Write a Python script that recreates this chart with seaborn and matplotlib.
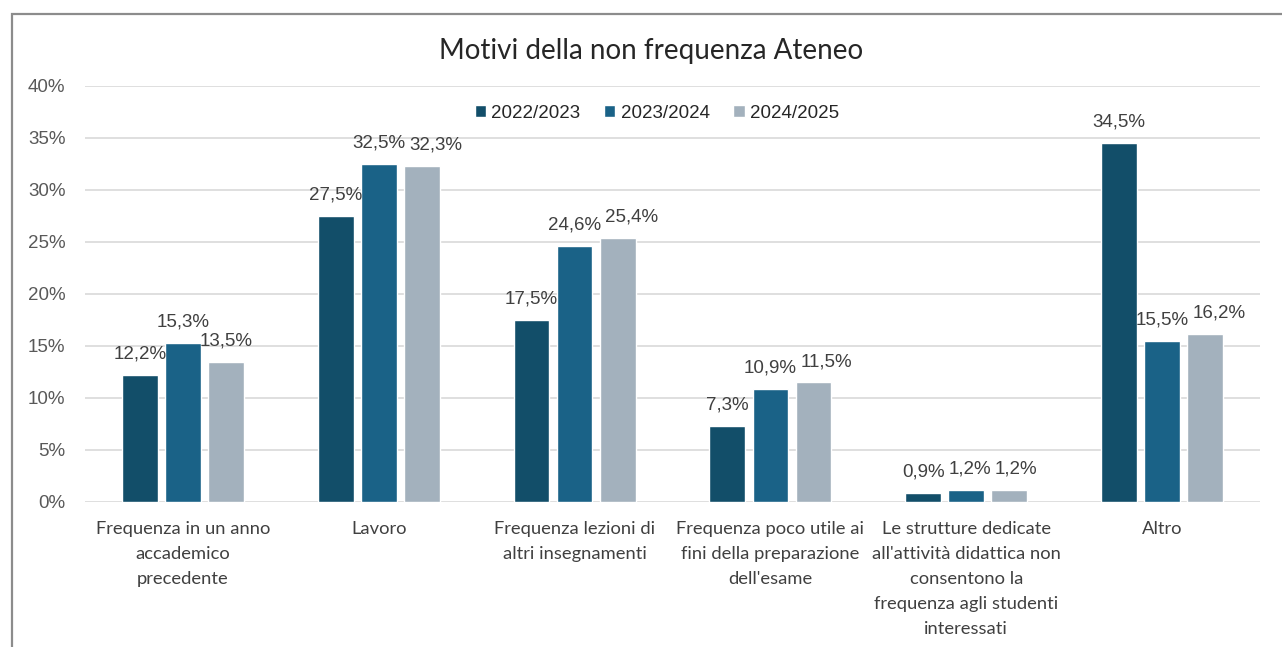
import matplotlib
matplotlib.use("Agg")
import matplotlib.pyplot as plt
import seaborn as sns
import pandas as pd
from matplotlib.patches import Rectangle

categories = [
    "Frequenza in un anno\naccademico\nprecedente",
    "Lavoro",
    "Frequenza lezioni di\naltri insegnamenti",
    "Frequenza poco utile ai\nfini della preparazione\ndell'esame",
    "Le strutture dedicate\nall'attività didattica non\nconsentono la\nfrequenza agli studenti\ninteressati",
    "Altro",
]
years = ["2022/2023", "2023/2024", "2024/2025"]
v_2022 = [12.2, 27.5, 17.5, 7.3, 0.9, 34.5]
v_2023 = [15.3, 32.5, 24.6, 10.9, 1.2, 15.5]
v_2024 = [13.5, 32.3, 25.4, 11.5, 1.2, 16.2]
colors = ["#124e69", "#1a6287", "#a3b1bd"]
yticks = [0, 5, 10, 15, 20, 25, 30, 35, 40]

rows = []
for yr, vals in zip(years, [v_2022, v_2023, v_2024]):
    for c, v in zip(categories, vals):
        rows.append({"cat": c, "year": yr, "val": v})
df = pd.DataFrame(rows)

sns.set_style("white")
plt.rcParams["font.family"] = ["Liberation Sans", "DejaVu Sans"]

fig = plt.figure(figsize=(12.82, 6.47), dpi=100)
ax = fig.add_axes([85/1282, 1-502/647, (1260-85)/1282, (502-86)/647])

sns.barplot(data=df, x="cat", y="val", hue="year", palette=colors,
            width=0.66, gap=0.17, ax=ax, saturation=1, zorder=3)

ax.set_ylim(0, 40)
ax.set_xlim(-0.5, len(categories) - 0.5)
ax.set_yticks(yticks)
ax.set_yticklabels([f"{t}%" for t in yticks], fontsize=13.5, color="#595959")
ax.grid(axis="y", color="#d9d9d9", linewidth=1.2, zorder=0)
ax.set_axisbelow(True)
for s in ax.spines.values():
    s.set_visible(False)
ax.tick_params(axis="y", length=0, pad=14)
ax.tick_params(axis="x", length=0, pad=14)
ax.set_xlabel("")
ax.set_ylabel("")
for lbl in ax.get_xticklabels():
    lbl.set_fontfamily(["Lato", "DejaVu Sans"])
    lbl.set_fontsize(13.2)
    lbl.set_color("#404040")
    lbl.set_linespacing(1.68)
    lbl.set_verticalalignment("top")

# data labels, centred above each bar
labels_by_cat = [[] for _ in categories]
for cont, vals in zip(ax.containers, [v_2022, v_2023, v_2024]):
    for i, (bar, v) in enumerate(zip(cont, vals)):
        x = bar.get_x() + bar.get_width() / 2
        t = ax.annotate(f"{v:.1f}%".replace(".", ","), xy=(x, bar.get_height()),
                        xytext=(0, 15), textcoords="offset points",
                        ha="center", va="center", fontsize=13.5, color="#404040")
        labels_by_cat[i].append(t)

# simple collision avoidance: push a label right if it collides with its left neighbour
fig.canvas.draw()
renderer = fig.canvas.get_renderer()
for group in labels_by_cat:
    for k in range(1, len(group)):
        pb = group[k-1].get_window_extent(renderer)
        bb = group[k].get_window_extent(renderer)
        v_overlap = (bb.y0 < pb.y1) and (pb.y0 < bb.y1)
        h_overlap = (bb.x0 - 3 < pb.x1) and (pb.x0 < bb.x1)
        if v_overlap and h_overlap:
            shift_px = pb.x1 - bb.x0 + 4
            ox, oy = group[k].xyann
            group[k].xyann = (ox + shift_px * 72 / fig.dpi, oy)
            fig.canvas.draw()

leg = ax.legend(loc="center", bbox_to_anchor=((657-85)/1175, 1-(113-86)/416),
                ncol=3, frameon=False, fontsize=13.5, handlelength=0.6, handleheight=0.6,
                handletextpad=0.3, columnspacing=1.25, borderaxespad=0)
for t in leg.get_texts():
    t.set_color("#262626")

fig.text(651/1282, 1-51/647, "Motivi della non frequenza Ateneo", ha="center", va="center",
         fontsize=20, color="#262626", family=["Lato", "DejaVu Sans"])

fig.patches.append(Rectangle((11.5/1282, -0.1), 1.2, 1 - 13.5/647 + 0.1, transform=fig.transFigure,
                             fill=False, edgecolor="#8c8c8c", linewidth=1.6))

fig.savefig("out.png", dpi=100)
